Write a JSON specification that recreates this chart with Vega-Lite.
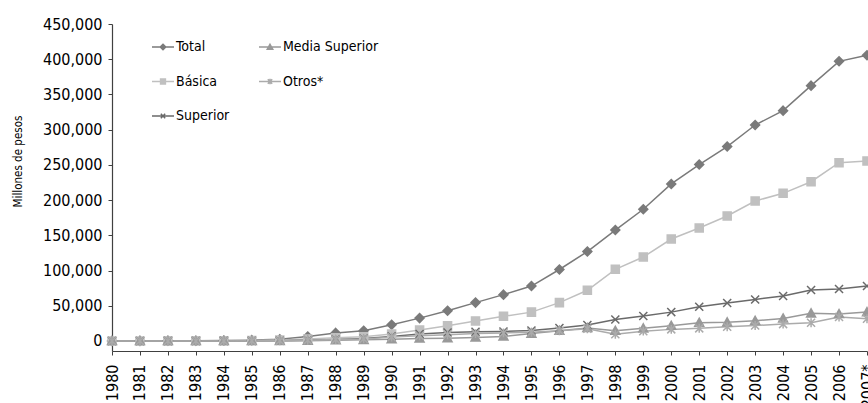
{
  "$schema": "https://vega.github.io/schema/vega-lite/v6.json",
  "width": 755,
  "height": 327,
  "autosize": {"type": "none"},
  "padding": {"left": 112, "top": 24, "right": 1, "bottom": 52},
  "background": "white",
  "config": {
    "view": {"stroke": null},
    "font": "DejaVu Sans Condensed, DejaVu Sans, sans-serif",
    "axis": {"grid": false, "domainColor": "#404040", "tickColor": "#404040", "labelColor": "#000", "titleColor": "#000"}
  },
  "data": {
    "values": [
      {"year":"1980","serie":"Total","value":100},{"year":"1981","serie":"Total","value":170},{"year":"1982","serie":"Total","value":280},{"year":"1983","serie":"Total","value":450},{"year":"1984","serie":"Total","value":750},{"year":"1985","serie":"Total","value":1200},{"year":"1986","serie":"Total","value":2500},{"year":"1987","serie":"Total","value":6500},{"year":"1988","serie":"Total","value":11500},{"year":"1989","serie":"Total","value":14500},{"year":"1990","serie":"Total","value":23000},{"year":"1991","serie":"Total","value":32500},{"year":"1992","serie":"Total","value":43000},{"year":"1993","serie":"Total","value":54500},{"year":"1994","serie":"Total","value":65800},{"year":"1995","serie":"Total","value":78000},{"year":"1996","serie":"Total","value":101500},{"year":"1997","serie":"Total","value":127000},{"year":"1998","serie":"Total","value":157500},{"year":"1999","serie":"Total","value":187000},{"year":"2000","serie":"Total","value":223000},{"year":"2001","serie":"Total","value":250500},{"year":"2002","serie":"Total","value":276000},{"year":"2003","serie":"Total","value":306600},{"year":"2004","serie":"Total","value":327000},{"year":"2005","serie":"Total","value":362500},{"year":"2006","serie":"Total","value":397000},{"year":"2007*","serie":"Total","value":405600},
      {"year":"1980","serie":"Básica","value":60},{"year":"1981","serie":"Básica","value":90},{"year":"1982","serie":"Básica","value":150},{"year":"1983","serie":"Básica","value":240},{"year":"1984","serie":"Básica","value":400},{"year":"1985","serie":"Básica","value":650},{"year":"1986","serie":"Básica","value":1300},{"year":"1987","serie":"Básica","value":2800},{"year":"1988","serie":"Básica","value":4500},{"year":"1989","serie":"Básica","value":6000},{"year":"1990","serie":"Básica","value":10000},{"year":"1991","serie":"Básica","value":15500},{"year":"1992","serie":"Básica","value":21500},{"year":"1993","serie":"Básica","value":28500},{"year":"1994","serie":"Básica","value":35000},{"year":"1995","serie":"Básica","value":41000},{"year":"1996","serie":"Básica","value":54500},{"year":"1997","serie":"Básica","value":72000},{"year":"1998","serie":"Básica","value":101800},{"year":"1999","serie":"Básica","value":119200},{"year":"2000","serie":"Básica","value":144800},{"year":"2001","serie":"Básica","value":160400},{"year":"2002","serie":"Básica","value":177500},{"year":"2003","serie":"Básica","value":198700},{"year":"2004","serie":"Básica","value":209600},{"year":"2005","serie":"Básica","value":226100},{"year":"2006","serie":"Básica","value":253100},{"year":"2007*","serie":"Básica","value":255500},
      {"year":"1980","serie":"Superior","value":15},{"year":"1981","serie":"Superior","value":25},{"year":"1982","serie":"Superior","value":40},{"year":"1983","serie":"Superior","value":70},{"year":"1984","serie":"Superior","value":110},{"year":"1985","serie":"Superior","value":180},{"year":"1986","serie":"Superior","value":400},{"year":"1987","serie":"Superior","value":1200},{"year":"1988","serie":"Superior","value":2300},{"year":"1989","serie":"Superior","value":3500},{"year":"1990","serie":"Superior","value":6500},{"year":"1991","serie":"Superior","value":10000},{"year":"1992","serie":"Superior","value":12000},{"year":"1993","serie":"Superior","value":13000},{"year":"1994","serie":"Superior","value":13500},{"year":"1995","serie":"Superior","value":14800},{"year":"1996","serie":"Superior","value":18500},{"year":"1997","serie":"Superior","value":22700},{"year":"1998","serie":"Superior","value":30500},{"year":"1999","serie":"Superior","value":35500},{"year":"2000","serie":"Superior","value":41000},{"year":"2001","serie":"Superior","value":48700},{"year":"2002","serie":"Superior","value":54000},{"year":"2003","serie":"Superior","value":59000},{"year":"2004","serie":"Superior","value":63900},{"year":"2005","serie":"Superior","value":72400},{"year":"2006","serie":"Superior","value":73800},{"year":"2007*","serie":"Superior","value":78100},
      {"year":"1980","serie":"Media Superior","value":8},{"year":"1981","serie":"Media Superior","value":12},{"year":"1982","serie":"Media Superior","value":20},{"year":"1983","serie":"Media Superior","value":35},{"year":"1984","serie":"Media Superior","value":55},{"year":"1985","serie":"Media Superior","value":90},{"year":"1986","serie":"Media Superior","value":200},{"year":"1987","serie":"Media Superior","value":500},{"year":"1988","serie":"Media Superior","value":1000},{"year":"1989","serie":"Media Superior","value":1600},{"year":"1990","serie":"Media Superior","value":2500},{"year":"1991","serie":"Media Superior","value":3500},{"year":"1992","serie":"Media Superior","value":4000},{"year":"1993","serie":"Media Superior","value":5000},{"year":"1994","serie":"Media Superior","value":6500},{"year":"1995","serie":"Media Superior","value":10500},{"year":"1996","serie":"Media Superior","value":14500},{"year":"1997","serie":"Media Superior","value":18500},{"year":"1998","serie":"Media Superior","value":14600},{"year":"1999","serie":"Media Superior","value":18000},{"year":"2000","serie":"Media Superior","value":21700},{"year":"2001","serie":"Media Superior","value":26000},{"year":"2002","serie":"Media Superior","value":26500},{"year":"2003","serie":"Media Superior","value":28800},{"year":"2004","serie":"Media Superior","value":32000},{"year":"2005","serie":"Media Superior","value":39300},{"year":"2006","serie":"Media Superior","value":38300},{"year":"2007*","serie":"Media Superior","value":41000},
      {"year":"1980","serie":"Otros*","value":15},{"year":"1981","serie":"Otros*","value":25},{"year":"1982","serie":"Otros*","value":45},{"year":"1983","serie":"Otros*","value":70},{"year":"1984","serie":"Otros*","value":120},{"year":"1985","serie":"Otros*","value":200},{"year":"1986","serie":"Otros*","value":400},{"year":"1987","serie":"Otros*","value":1000},{"year":"1988","serie":"Otros*","value":2000},{"year":"1989","serie":"Otros*","value":3000},{"year":"1990","serie":"Otros*","value":5500},{"year":"1991","serie":"Otros*","value":7500},{"year":"1992","serie":"Otros*","value":9000},{"year":"1993","serie":"Otros*","value":10500},{"year":"1994","serie":"Otros*","value":11500},{"year":"1995","serie":"Otros*","value":12500},{"year":"1996","serie":"Otros*","value":14500},{"year":"1997","serie":"Otros*","value":17500},{"year":"1998","serie":"Otros*","value":9500},{"year":"1999","serie":"Otros*","value":14000},{"year":"2000","serie":"Otros*","value":16500},{"year":"2001","serie":"Otros*","value":18000},{"year":"2002","serie":"Otros*","value":20300},{"year":"2003","serie":"Otros*","value":22000},{"year":"2004","serie":"Otros*","value":24000},{"year":"2005","serie":"Otros*","value":26000},{"year":"2006","serie":"Otros*","value":34000},{"year":"2007*","serie":"Otros*","value":31500}
    ]
  },
  "encoding": {
    "x": {
      "field": "year", "type": "ordinal",
      "scale": {"type": "point", "padding": 0},
      "axis": {"title": null, "labelAngle": 270, "labelAlign": "right", "labelBaseline": "middle", "labelFontSize": 16, "tickSize": 4, "labelPadding": 9, "domainWidth": 1.2}
    },
    "y": {
      "field": "value", "type": "quantitative",
      "scale": {"domain": [-14196, 450000], "nice": false, "zero": false},
      "axis": {"title": "Millones de pesos", "titleFontSize": 11.5, "titleFontWeight": "normal", "titleAngle": 270, "titleX": -94, "titleY": 137, "titleAlign": "center", "titleBaseline": "middle", "values": [0,50000,100000,150000,200000,250000,300000,350000,400000,450000], "format": ",d", "labelFontSize": 16, "tickSize": 4, "labelPadding": 6, "domainWidth": 1.2}
    }
  },
  "layer": [
    {
      "mark": {"type": "line", "strokeWidth": 1.5},
      "encoding": {
        "color": {
          "field": "serie", "type": "nominal",
          "scale": {"domain": ["Total","Media Superior","Básica","Otros*","Superior"], "range": ["#7a7a7a","#999999","#c0c0c0","#ababab","#6a6a6a"]},
          "legend": {
            "title": null, "orient": "none", "legendX": 39, "legendY": 11, "columns": 2, "direction": "horizontal",
            "labelFontSize": 14, "labelColor": "#000", "labelOffset": 1, "symbolSize": 484, "symbolStrokeWidth": 1.5,
            "rowPadding": 15.5, "columnPadding": 26, "padding": 0,
            "encode": {"symbols": {"update": {
              "shape": {"signal": "datum.value === 'Total' ? 'M-1,0L1,0M0,-0.25L0.25,0L0,0.25L-0.25,0Z' : datum.value === 'Media Superior' ? 'M-1,0L1,0M0,-0.25L0.25,0.2L-0.25,0.2Z' : datum.value === 'Básica' ? 'M-1,0L1,0M-0.22,-0.22L0.22,-0.22L0.22,0.22L-0.22,0.22Z' : datum.value === 'Otros*' ? 'M-1,0L1,0M-0.2,-0.2L0.2,0.2M-0.2,0.2L0.2,-0.2M0,-0.25L0,0.25' : 'M-1,0L1,0M-0.2,-0.2L0.2,0.2M-0.2,0.2L0.2,-0.2'"},
              "fill": {"signal": "scale('color', datum.value)"},
              "strokeWidth": {"value": 1.5}
            }}}
          }
        }
      }
    },
    {
      "mark": {"type": "point", "filled": true, "opacity": 1, "size": 80, "strokeWidth": 1.5},
      "encoding": {
        "color": {"field": "serie", "type": "nominal", "legend": null},
        "stroke": {
          "field": "serie", "type": "nominal", "legend": null,
          "scale": {"domain": ["Básica","Media Superior","Otros*","Superior","Total"], "range": ["#c0c0c0","#999999","#ababab","#6a6a6a","#7a7a7a"]}
        },
        "shape": {
          "field": "serie", "type": "nominal", "legend": null,
          "scale": {"domain": ["Básica","Media Superior","Otros*","Superior","Total"], "range": ["M-0.9,-0.9L0.9,-0.9L0.9,0.9L-0.9,0.9Z", "M0,-1L1,0.8L-1,0.8Z", "M-0.9,-0.9L0.9,0.9M-0.9,0.9L0.9,-0.9M0,-1L0,1", "M-0.9,-0.9L0.9,0.9M-0.9,0.9L0.9,-0.9", "M0,-1L1,0L0,1L-1,0Z"]}
        }
      }
    }
  ]
}
